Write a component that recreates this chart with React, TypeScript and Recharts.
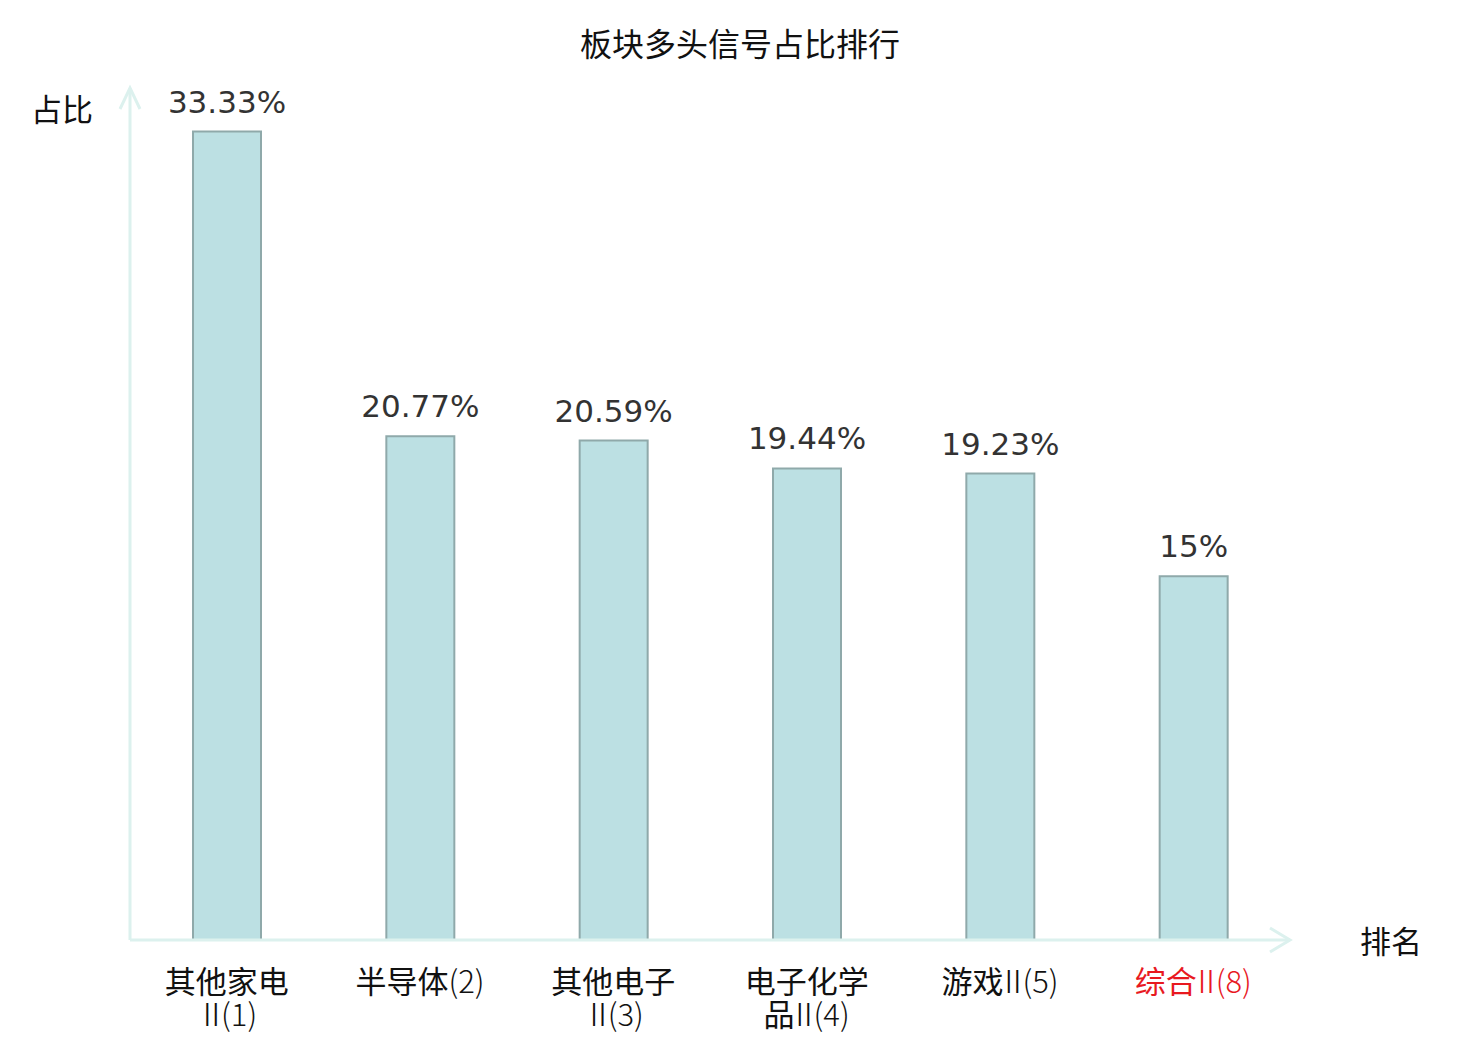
import { BarChart, Bar, XAxis, YAxis, LabelList } from "recharts";

const categories = ["其他家电Ⅱ(1)", "半导体(2)", "其他电子Ⅱ(3)", "电子化学品Ⅱ(4)", "游戏Ⅱ(5)", "综合Ⅱ(8)"];
// printed lines of each tick label: [CJK part, roman numeral, rank]
const tickLines = [
  [["其他家电", "", ""], ["", "Ⅱ", "(1)"]],
  [["半导体", "", "(2)"]],
  [["其他电子", "", ""], ["", "Ⅱ", "(3)"]],
  [["电子化学", "", ""], ["品", "Ⅱ", "(4)"]],
  [["游戏", "Ⅱ", "(5)"]],
  [["综合", "Ⅱ", "(8)"]],
];
const shares = [33.33, 20.77, 20.59, 19.44, 19.23, 15];
const highlighted = [false, false, false, false, false, true];

const data = categories.map((name, i) => ({ name, value: shares[i] }));

const AXIS = "#dcf1ee";
const CJK = "'Noto Sans CJK SC', 'Noto Sans', sans-serif";

function CategoryTick(props: any) {
  const { x, y, payload } = props;
  const i = payload.index;
  const lines = tickLines[i] ?? [[payload.value, "", ""]];
  const color = highlighted[i] ? "#e8191f" : "#111";
  return (
    <g>
      {lines.map(([cjk, numeral, rank], k) => (
        <text
          key={k}
          x={x}
          y={y + 53 + k * 33}
          textAnchor="middle"
          fontFamily={CJK}
          fontSize={31}
          fill={color}
        >
          {cjk}
          {numeral ? (
            <tspan fontWeight={300} dx={cjk ? -6 : 0}>
              {numeral}
            </tspan>
          ) : null}
          {rank ? (
            <tspan fontWeight={300} dx={numeral ? -6 : 0}>
              {rank}
            </tspan>
          ) : null}
        </text>
      ))}
    </g>
  );
}

function XArrow(props: any) {
  const { x, y, width } = props.viewBox;
  const end = x + width;
  return (
    <g>
      <polyline
        points={`${end - 20},${y - 12} ${end},${y} ${end - 20},${y + 12}`}
        fill="none"
        stroke={AXIS}
        strokeWidth={3}
      />
      <text x={end + 101} y={y + 13} textAnchor="middle" fontFamily={CJK} fontSize={31} fill="#111">
        排名
      </text>
    </g>
  );
}

function YArrow(props: any) {
  const { x, y, width } = props.viewBox;
  const ax = x + width;
  return (
    <g>
      <line x1={ax} y1={y - 3} x2={ax} y2={y + 2} stroke={AXIS} strokeWidth={3} />
      <polyline
        points={`${ax - 10},${y + 18} ${ax},${y - 3} ${ax + 10},${y + 18}`}
        fill="none"
        stroke={AXIS}
        strokeWidth={3}
      />
      <text x={62} y={y + 30} textAnchor="middle" fontFamily={CJK} fontSize={31} fill="#111">
        占比
      </text>
    </g>
  );
}

export default function App() {
  return (
    <div style={{ position: "absolute", left: 0, top: 0, width: 1480, height: 1040, background: "#fff" }}>
      <div
        style={{
          position: "absolute",
          top: 22,
          left: 0,
          width: 1480,
          textAlign: "center",
          fontFamily: CJK,
          fontSize: 32,
          color: "#111",
          lineHeight: "40px",
        }}
      >
        板块多头信号占比排行
      </div>
      <BarChart
        width={1480}
        height={1040}
        data={data}
        margin={{ top: 91, right: 190, bottom: 0, left: 70 }}
        barSize={68}
      >
        <XAxis
          dataKey="name"
          axisLine={{ stroke: AXIS, strokeWidth: 3 }}
          tickLine={false}
          tickSize={0}
          tickMargin={0}
          interval={0}
          tick={<CategoryTick />}
          height={100}
          label={{ content: <XArrow /> }}
        />
        <YAxis
          domain={[0, 35]}
          width={60}
          tick={false}
          tickLine={false}
          axisLine={{ stroke: AXIS, strokeWidth: 3 }}
          label={{ content: <YArrow /> }}
        />
        <Bar
          dataKey="value"
          fill="#bce0e3"
          stroke="#8fa9aa"
          strokeWidth={2}
          isAnimationActive={false}
        >
          <LabelList
            dataKey="value"
            position="top"
            offset={19}
            formatter={(v: any) => `${v}%`}
            style={{ fontFamily: "'DejaVu Sans', sans-serif", fontSize: 31, fill: "#333" }}
          />
        </Bar>
      </BarChart>
    </div>
  );
}
